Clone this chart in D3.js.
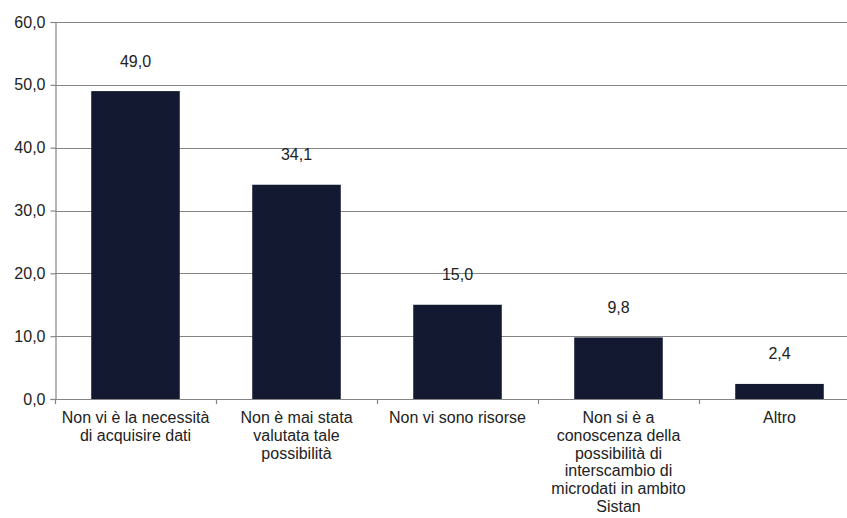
<!DOCTYPE html>
<html>
<head>
<meta charset="utf-8">
<script src="https://cdn.jsdelivr.net/npm/d3@7"></script>
<style>
  html, body { margin: 0; padding: 0; background: #ffffff; }
  svg { display: block; font-family: "Liberation Sans", Arial, sans-serif; }
</style>
</head>
<body>
<svg id="chart" width="847" height="518"></svg>
<script>
// Motivi per cui non si acquisiscono microdati (%)
const categories = [
  "Non vi è la necessità\ndi acquisire dati",
  "Non è mai stata\nvalutata tale\npossibilità",
  "Non vi sono risorse",
  "Non si è a\nconoscenza della\npossibilità di\ninterscambio di\nmicrodati in ambito\nSistan",
  "Altro"
];
const values = [49.0, 34.1, 15.0, 9.8, 2.4];
const yTicks = [0, 10, 20, 30, 40, 50, 60];

const svg = d3.select("#chart");
const plotLeft = 55, plotBottom = 399, plotTop = 22, step = 161;
const textColor = "#222222";
const fontSize = "16px";

const x = d3.scaleBand()
  .domain(categories)
  .range([plotLeft, plotLeft + step * categories.length])
  .paddingInner(0.45)
  .paddingOuter(0.225);

const y = d3.scaleLinear().domain([0, 60]).range([plotBottom, plotTop]);

const fmt = v => d3.format(".1f")(v).replace(".", ",");

// horizontal gridlines
svg.append("g")
  .selectAll("line")
  .data(yTicks.filter(d => d > 0))
  .join("line")
  .attr("x1", plotLeft).attr("x2", 847)
  .attr("y1", d => Math.round(y(d)) + 0.5).attr("y2", d => Math.round(y(d)) + 0.5)
  .attr("stroke", "#858585").attr("stroke-width", 1.2);

// y axis
const yAxis = d3.axisLeft(y).tickValues(yTicks).tickSize(5).tickPadding(5).tickFormat(fmt);
const gy = svg.append("g").attr("transform", `translate(${plotLeft + 0.5},0)`).call(yAxis);
gy.select(".domain").attr("stroke", "#858585").attr("stroke-width", 1.2);
gy.selectAll(".tick line").attr("stroke", "#858585").attr("stroke-width", 1.2);
gy.selectAll(".tick text")
  .attr("fill", textColor)
  .style("font-size", fontSize)
  .style("font-family", "'Liberation Sans', Arial, sans-serif");

// x axis baseline and category boundary ticks
svg.append("line")
  .attr("x1", plotLeft).attr("x2", 847)
  .attr("y1", plotBottom + 0.5).attr("y2", plotBottom + 0.5)
  .attr("stroke", "#858585").attr("stroke-width", 1.2);

svg.append("g")
  .selectAll("line")
  .data(d3.range(categories.length + 1))
  .join("line")
  .attr("x1", i => plotLeft + 0.5 + i * x.step())
  .attr("x2", i => plotLeft + 0.5 + i * x.step())
  .attr("y1", plotBottom).attr("y2", plotBottom + 5)
  .attr("stroke", "#858585").attr("stroke-width", 1.2);

// bars
svg.append("g")
  .selectAll("rect")
  .data(values)
  .join("rect")
  .attr("x", (d, i) => x(categories[i]))
  .attr("width", x.bandwidth())
  .attr("y", d => y(d))
  .attr("height", d => y(0) - y(d))
  .attr("fill", "#131931");

// value labels
svg.append("g")
  .selectAll("text")
  .data(values)
  .join("text")
  .attr("x", (d, i) => x(categories[i]) + x.bandwidth() / 2)
  .attr("y", d => y(d) - 30)
  .attr("text-anchor", "middle")
  .attr("dominant-baseline", "central")
  .attr("fill", textColor)
  .style("font-size", fontSize)
  .text(fmt);

// category labels (multi-line)
const cat = svg.append("g")
  .selectAll("text")
  .data(categories)
  .join("text")
  .attr("x", d => x(d) + x.bandwidth() / 2)
  .attr("y", 423)
  .attr("text-anchor", "middle")
  .attr("fill", textColor)
  .style("font-size", fontSize);

cat.each(function(d) {
  const t = d3.select(this);
  d.split("\n").forEach((line, i) => {
    t.append("tspan")
      .attr("x", t.attr("x"))
      .attr("dy", i === 0 ? 0 : 17.8)
      .text(line);
  });
});
</script>
</body>
</html>
